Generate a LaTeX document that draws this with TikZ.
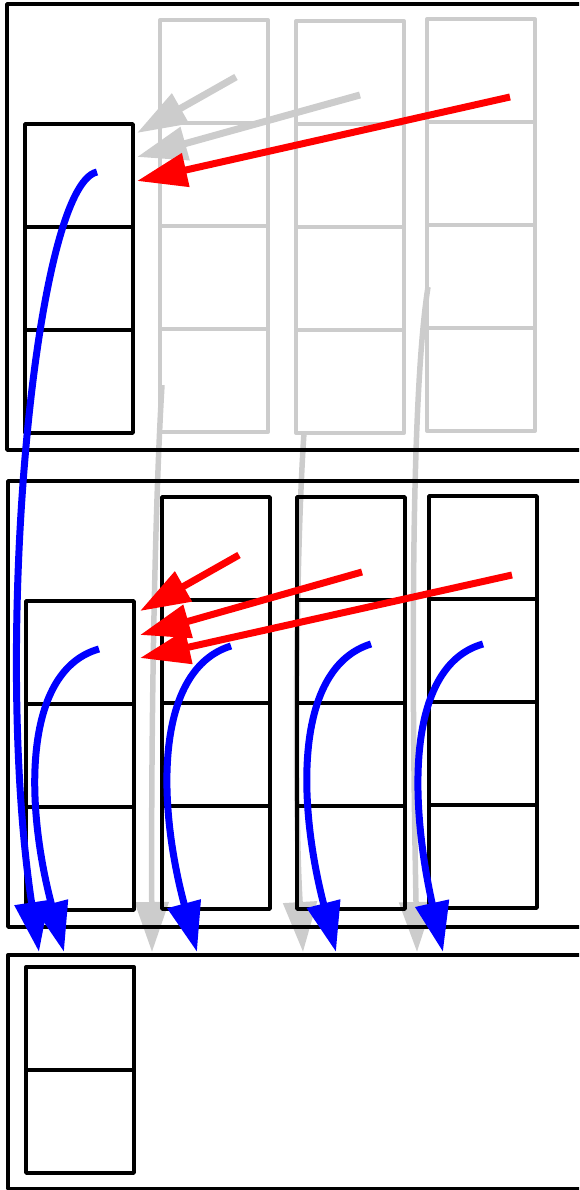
\documentclass[tikz,border=0pt]{standalone}
\usetikzlibrary{arrows.meta,calc}
\definecolor{fade}{RGB}{204,204,204}
\begin{document}
\begin{tikzpicture}[x=1pt,y=-1pt,line join=round,
  panel/.style={draw=black,line width=3.4pt},
  cell/.style={draw=black,line width=3.4pt,minimum width=108pt,minimum height=103pt,
    inner sep=0pt,outer sep=0pt,anchor=north west},
  gcell/.style={cell,draw=fade,line width=4pt},
  headarr/.style={-{Triangle[length=50pt,width=33pt]}},
  redarr/.style={headarr,red,line width=7pt},
  bluearr/.style={headarr,blue,line width=7pt},
  fadearr/.style={headarr,fade,line width=7pt}]
\useasboundingbox (0,0) rectangle (579,1190);
\clip (0,0) rectangle (579,1190);
% landing points just above the last panel
\foreach \n/\x in {0/39,1/64,2/152,3/197,4/303,5/336,6/417,7/443}{\coordinate (land\n) at (\x,952);}
% faded moves of the first step, behind everything
\coordinate (fs1) at (162,385); \coordinate (fs2) at (304,433); \coordinate (fs3) at (428,287);
\draw[fadearr,line width=5.5pt] (fs1) .. controls (154,520) and (151,750) .. (land2);
\draw[fadearr,line width=5.5pt] (fs2) .. controls (296,550) and (294,800) .. (land4);
\draw[fadearr,line width=5.5pt] (fs3) .. controls (410,400) and (412,700) .. (land6);
% first step: one black column, three faded columns
\draw[panel] (7,4) rectangle (620,450);
\foreach \r in {1,2,3}{\node[cell] (ta\r) at (25,124+103*\r-103) {};}
\foreach \c/\x/\y in {1/160/20, 2/296/21, 3/427/19}{
  \foreach \r in {1,...,4}{\node[gcell] (tg\c\r) at (\x,\y+103*\r-103) {};}}
% second step
\draw[panel] (8,481) rectangle (620,927);
\foreach \r in {1,2,3}{\node[cell] (ma\r) at (26,601+103*\r-103) {};}
\foreach \c/\x/\y in {1/162/497, 2/297/497, 3/429/496}{
  \foreach \r in {1,...,4}{\node[cell] (mc\c\r) at (\x,\y+103*\r-103) {};}}
% last step
\draw[panel] (8,955) rectangle (620,1189);
\foreach \r in {1,2}{\node[cell] (ba\r) at (26,967+103*\r-103) {};}
% pushes into the first column
\coordinate (ts1) at (236,77); \coordinate (ts2) at (360,95); \coordinate (ts3) at (510,97);
\draw[fadearr] (ts1) -- ($(ta1.east)+(4,-42.5)$);
\draw[fadearr] (ts2) -- ($(ta1.east)+(4,-18.5)$);
\draw[redarr] (ts3) -- ($(ta1.east)+(4,5.5)$);
\coordinate (ms1) at (239,555); \coordinate (ms2) at (362,572); \coordinate (ms3) at (512,575);
\draw[redarr] (ms1) -- ($(ma1.east)+(6,-41.5)$);
\draw[redarr] (ms2) -- ($(ma1.east)+(6,-17.5)$);
\draw[redarr] (ms3) -- ($(ma1.east)+(6,5.5)$);
% moves down to the next step
\draw[bluearr] ($(ta1)+(18,-3.5)$) .. controls (35,185) and (-8,640) .. (land0);
\draw[bluearr] ($(ma1)+(19,-3.5)$) .. controls (24,670) and (24,800) .. (land1);
\draw[bluearr] ($(mc12)+(15,-5.5)$) .. controls (156,669) and (156,799) .. (land3);
\draw[bluearr] ($(mc22)+(20,-7.5)$) .. controls (296,667) and (296,797) .. (land5);
\draw[bluearr] ($(mc32)+(0,-6.5)$) .. controls (408,665) and (408,795) .. (land7);
\end{tikzpicture}
\end{document}
